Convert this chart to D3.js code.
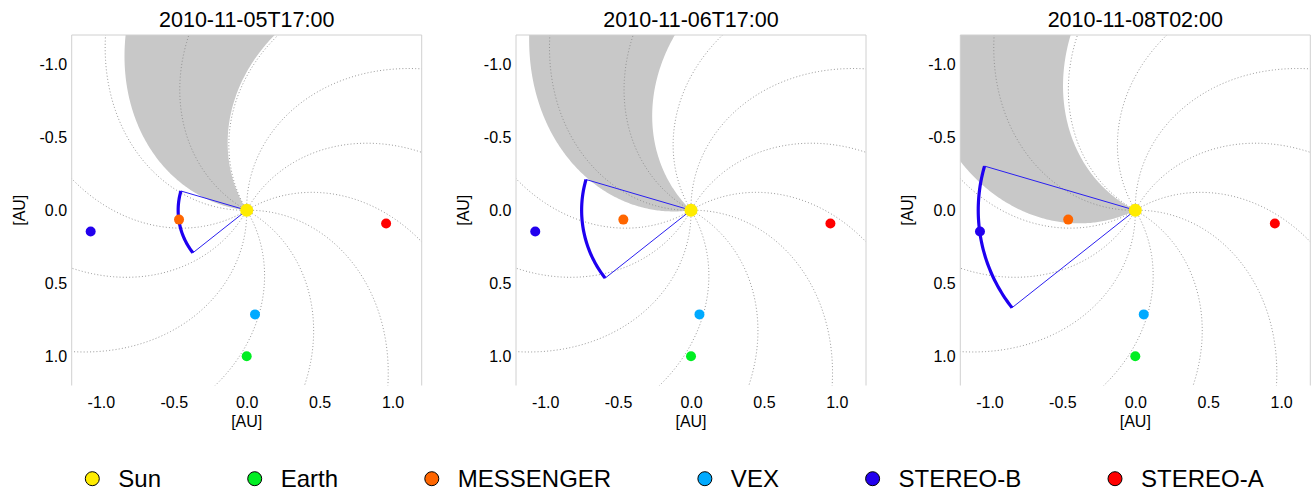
<!DOCTYPE html>
<html><head><meta charset="utf-8">
<script src="https://cdn.jsdelivr.net/npm/d3@7"></script>
<style>
body{margin:0;background:#fff}
text{font-family:"Liberation Sans",Arial,Helvetica,sans-serif;fill:#000}
</style>
</head><body>
<svg id="c" width="1314" height="491"></svg>
<script>
// ---------------- data ----------------
const panelTitles = ["2010-11-05T17:00", "2010-11-06T17:00", "2010-11-08T02:00"];
const bodyNames   = ["Sun", "Earth", "MESSENGER", "VEX", "STEREO-B", "STEREO-A"];
const bodyColors  = ["#ffec00", "#00ee22", "#ff6600", "#00aaff", "#2200ee", "#ff0000"];
// positions [x, y] in AU, one per panel
const sunXY       = [[0, 0], [0, 0], [0, 0]];
const earthXY     = [[0.0, 1.0], [0.0, 1.0], [0.0, 1.0]];
const messengerXY = [[-0.464, 0.064], [-0.464, 0.064], [-0.460, 0.064]];
const vexXY       = [[0.057, 0.713], [0.058, 0.713], [0.058, 0.713]];
const stereoBXY   = [[-1.070, 0.146], [-1.068, 0.146], [-1.065, 0.146]];
const stereoAXY   = [[0.956, 0.091], [0.956, 0.091], [0.957, 0.091]];
// CME front: heliocentric distance [AU], direction and half width [deg, HEE longitude]
const cmeDistance  = [0.47, 0.75, 1.077];
const cmeDirection = -79;
const cmeHalfWidth = 27.3;
// high speed stream boundaries, HEE longitude at the Sun [deg]
const streamLonA = [-96, -82, -63.5];
const streamLonB = [-148, -134, -116.5];
// Parker spirals: footpoint longitudes [deg] and winding [deg per AU]
const spiralLon = [91, 61, 31, 1, -29, -59, -89, -119, -149, -179, 151, 121];
const spiralWinding = 33.8;
const tickValues = [-1.0, -0.5, 0.0, 0.5, 1.0];
const axisDomain = [-1.2, 1.2];

// ---------------- drawing ----------------
const svg = d3.select("#c");
const panelW = 350, panelH = 350.5, panelTop = 35, firstLeft = 71.7, panelStep = 444.3;
const rad = Math.PI / 180;
const toXY = (r, thetaDeg) => [r * Math.cos(thetaDeg * rad), r * Math.sin(thetaDeg * rad)];
const lonToTheta = lon => 90 - lon;
const allXY = [sunXY, earthXY, messengerXY, vexXY, stereoBXY, stereoAXY];

panelTitles.forEach((title, i) => {
  const left = firstLeft + i * panelStep;
  const x = d3.scaleLinear().domain(axisDomain).range([left, left + panelW]);
  const y = d3.scaleLinear().domain(axisDomain).range([panelTop, panelTop + panelH]);
  const line = d3.line().x(d => x(d[0])).y(d => y(d[1]));
  const g = svg.append("g");

  const clipId = "clip" + i;
  svg.append("defs").append("clipPath").attr("id", clipId)
    .append("rect").attr("x", left).attr("y", panelTop).attr("width", panelW).attr("height", panelH);
  const plot = g.append("g").attr("clip-path", `url(#${clipId})`);

  // stream region
  const rs = d3.range(0, 2.2001, 0.01);
  const tA = lonToTheta(streamLonA[i]), tB = lonToTheta(streamLonB[i]);
  let tBn = tB; while (tBn < tA) tBn += 360;
  const rMax = 2.2;
  const poly = rs.map(r => toXY(r, tA + spiralWinding * r));
  d3.range(0, 1.0001, 0.05).forEach(f => poly.push(toXY(rMax, tA + spiralWinding * rMax + f * (tBn - tA))));
  rs.slice().reverse().forEach(r => poly.push(toXY(r, tBn + spiralWinding * r)));
  plot.append("path").attr("d", line(poly) + "Z").attr("fill", "#c8c8c8").attr("stroke", "none");

  // Parker spirals
  spiralLon.forEach(lon0 => {
    const t0 = lonToTheta(lon0);
    const pts = d3.range(0, 2.0001, 0.01).map(r => toXY(r, t0 + spiralWinding * r));
    plot.append("path").attr("d", line(pts)).attr("fill", "none")
      .attr("stroke", "#8c8c8c").attr("stroke-width", 0.9).attr("stroke-dasharray", "1,2.2");
  });

  // CME sector
  const th1 = lonToTheta(cmeDirection + cmeHalfWidth), th2 = lonToTheta(cmeDirection - cmeHalfWidth);
  const R = cmeDistance[i];
  const e1 = toXY(R, th1), e2 = toXY(R, th2);
  plot.append("path").attr("d", line([[0, 0], e1])).attr("stroke", "#2a1ff0").attr("stroke-width", 1).attr("fill", "none");
  plot.append("path").attr("d", line([[0, 0], e2])).attr("stroke", "#2a1ff0").attr("stroke-width", 1).attr("fill", "none");
  const arc = d3.range(0, 1.0001, 0.02).map(f => toXY(R, th1 + f * (th2 - th1)));
  plot.append("path").attr("d", line(arc)).attr("stroke", "#1e00f0").attr("stroke-width", 3.2).attr("fill", "none");

  // bodies (Sun drawn last)
  [1, 2, 3, 4, 5, 0].forEach(b => {
    const p = allXY[b][i];
    plot.append("circle").attr("cx", x(p[0])).attr("cy", y(p[1]))
      .attr("r", b === 0 ? 6.5 : 5).attr("fill", bodyColors[b]);
  });

  // frame (top, left, right)
  g.append("path")
    .attr("d", `M${left},${panelTop + panelH}V${panelTop}H${left + panelW}V${panelTop + panelH}`)
    .attr("fill", "none").attr("stroke", "#d0d0d0").attr("stroke-width", 1);

  // axes
  const fmt = d => d.toFixed(1);
  const ax = g.append("g").attr("transform", `translate(0,${panelTop + panelH})`)
    .call(d3.axisBottom(x).tickValues(tickValues).tickFormat(fmt).tickSize(0).tickPadding(10.8));
  const ay = g.append("g").attr("transform", `translate(${left},0)`)
    .call(d3.axisLeft(y).tickValues(tickValues).tickFormat(fmt).tickSize(0).tickPadding(4.6));
  [ax, ay].forEach(a => {
    a.select(".domain").remove();
    a.selectAll("text").attr("font-size", 16).attr("font-family", "Liberation Sans, Arial, sans-serif").attr("fill", "#000");
  });

  // labels
  g.append("text").attr("x", left + panelW / 2).attr("y", 27.3).attr("text-anchor", "middle")
    .attr("font-size", 21.5).text(title);
  g.append("text").attr("x", left + panelW / 2).attr("y", 427).attr("text-anchor", "middle")
    .attr("font-size", 16).text("[AU]");
  g.append("text").attr("transform", `translate(${left - 52.7},${panelTop + panelH / 2}) rotate(-90)`)
    .attr("text-anchor", "middle").attr("dy", "0.35em").attr("font-size", 16).text("[AU]");
});

// legend
const legY = 478.7, legStart = 92.3, legEnd = 1115, keyToText = 26;
const leg = svg.append("g");
const items = bodyNames.map((name, b) => {
  const it = leg.append("g");
  it.append("circle").attr("r", 7).attr("fill", bodyColors[b]).attr("stroke", "#000").attr("stroke-width", 1);
  const t = it.append("text").attr("x", keyToText).attr("y", 8.3).attr("font-size", 24).text(name);
  return {it, w: t.node().getComputedTextLength()};
});
const sumW = d3.sum(items.slice(0, items.length - 1), d => d.w);
const gap = (legEnd - legStart - (items.length - 1) * keyToText - sumW) / (items.length - 1);
let cx = legStart;
items.forEach(d => {
  d.it.attr("transform", `translate(${cx},${legY})`);
  cx += keyToText + d.w + gap;
});
</script>
</body></html>
